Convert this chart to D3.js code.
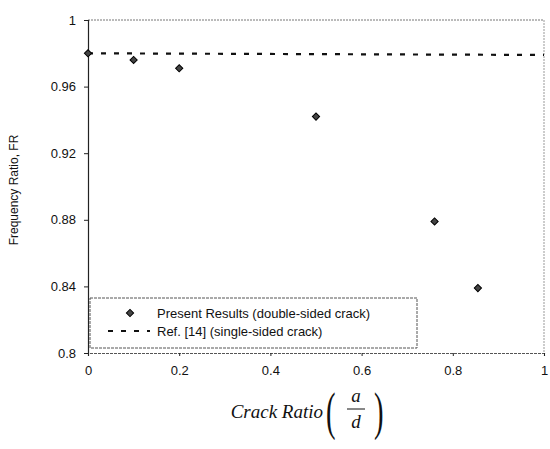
<!DOCTYPE html>
<html><head><meta charset="utf-8">
<script src="https://cdn.jsdelivr.net/npm/d3@7"></script>
<style>body{margin:0;background:#fff;}</style>
</head><body>
<svg id="c" width="550" height="449"></svg>
<script>
const crackRatio = [0.0, 0.1, 0.2, 0.5, 0.76, 0.855];
const presentFR = [0.980, 0.976, 0.971, 0.942, 0.879, 0.839];
const refX = [0.0, 1.0];
const refFR = [0.980, 0.979];
const xTicks = [0, 0.2, 0.4, 0.6, 0.8, 1];
const yTicks = [0.8, 0.84, 0.88, 0.92, 0.96, 1];
const legendLabels = ["Present Results (double-sided crack)", "Ref. [14] (single-sided crack)"];

const svg = d3.select("#c");
const x = d3.scaleLinear().domain([0, 1]).range([88, 544]);
const y = d3.scaleLinear().domain([0.8, 1]).range([353, 20]);

// frame
svg.append("line").attr("x1", 88).attr("x2", 544).attr("y1", 20).attr("y2", 20)
  .attr("stroke", "#777").attr("stroke-width", 1).attr("stroke-dasharray", "2,1");
svg.append("line").attr("x1", 544).attr("x2", 544).attr("y1", 20).attr("y2", 353)
  .attr("stroke", "#999").attr("stroke-width", 1).attr("stroke-dasharray", "2,1");

const xAxis = svg.append("g").attr("transform", "translate(0,353)")
  .call(d3.axisBottom(x).tickValues(xTicks).tickFormat(d3.format("")).tickSize(3).tickPadding(10));
const yAxis = svg.append("g").attr("transform", "translate(88,0)")
  .call(d3.axisLeft(y).tickValues(yTicks).tickFormat(d => d === 1 ? "1" : d3.format("")(+d.toFixed(2))).tickSize(4).tickPadding(8));
[xAxis, yAxis].forEach(g => {
  g.selectAll("path").attr("stroke", "#222").attr("stroke-width", 1.2);
  g.selectAll("line").attr("stroke", "#222");
  g.selectAll("text").attr("font-family", "Liberation Sans, Arial, sans-serif").attr("font-size", 13).attr("fill", "#111");
});
xAxis.select("path").attr("stroke", "#555").attr("stroke-dasharray", "3,1");

// reference dashed line
svg.append("path")
  .datum(refX.map((d, i) => [d, refFR[i]]))
  .attr("d", d3.line().x(d => x(d[0])).y(d => y(d[1])))
  .attr("fill", "none").attr("stroke", "#111").attr("stroke-width", 2.2).attr("stroke-dasharray", "5,8");

// markers (square rotated 45 deg)
const sym = d3.symbol().type(d3.symbolSquare).size(26);
svg.selectAll("path.pt").data(crackRatio).enter().append("path").attr("class", "pt")
  .attr("d", sym)
  .attr("transform", (d, i) => `translate(${x(d)},${y(presentFR[i])}) rotate(45)`)
  .attr("fill", "#444").attr("stroke", "#000").attr("stroke-width", 1);

// legend
svg.append("rect").attr("x", 90).attr("y", 298).attr("width", 327).attr("height", 50)
  .attr("fill", "#fff").attr("stroke", "#555").attr("stroke-width", 1).attr("stroke-dasharray", "3,1");
svg.append("path").attr("d", sym).attr("transform", "translate(130,313) rotate(45)")
  .attr("fill", "#444").attr("stroke", "#000").attr("stroke-width", 1);
svg.append("line").attr("x1", 108).attr("x2", 150).attr("y1", 331).attr("y2", 331)
  .attr("stroke", "#111").attr("stroke-width", 2.2).attr("stroke-dasharray", "5,8");
legendLabels.forEach((t, i) => {
  svg.append("text").attr("x", 157).attr("y", 313 + i * 18).attr("dy", "0.35em")
    .attr("font-family", "Liberation Sans, Arial, sans-serif").attr("font-size", 13).attr("fill", "#111").text(t);
});

// y title
svg.append("text").attr("transform", "translate(18,190) rotate(-90)").attr("text-anchor", "middle")
  .attr("font-family", "Liberation Sans, Arial, sans-serif").attr("font-size", 12).attr("fill", "#111")
  .text("Frequency Ratio, FR");

// x title
const serif = "Liberation Serif, Times New Roman, serif";
svg.append("text").attr("x", 323).attr("y", 418).attr("text-anchor", "end")
  .attr("font-family", serif).attr("font-style", "italic").attr("font-size", 19).attr("fill", "#111")
  .text("Crack Ratio");
svg.append("text").attr("x", 326).attr("y", 429).attr("font-family", serif).attr("font-size", 52)
  .attr("transform", "translate(326,429) scale(0.55,1) translate(-326,-429)")
  .attr("fill", "#111").text("(");
svg.append("text").attr("x", 374).attr("y", 429).attr("font-family", serif).attr("font-size", 52)
  .attr("transform", "translate(374,429) scale(0.55,1) translate(-374,-429)")
  .attr("fill", "#111").text(")");
svg.append("text").attr("x", 356).attr("y", 402).attr("text-anchor", "middle")
  .attr("font-family", serif).attr("font-style", "italic").attr("font-size", 19).attr("fill", "#111").text("a");
svg.append("line").attr("x1", 347).attr("x2", 365).attr("y1", 409).attr("y2", 409).attr("stroke", "#111").attr("stroke-width", 1);
svg.append("text").attr("x", 356).attr("y", 428).attr("text-anchor", "middle")
  .attr("font-family", serif).attr("font-style", "italic").attr("font-size", 19).attr("fill", "#111").text("d");
</script>
</body></html>
